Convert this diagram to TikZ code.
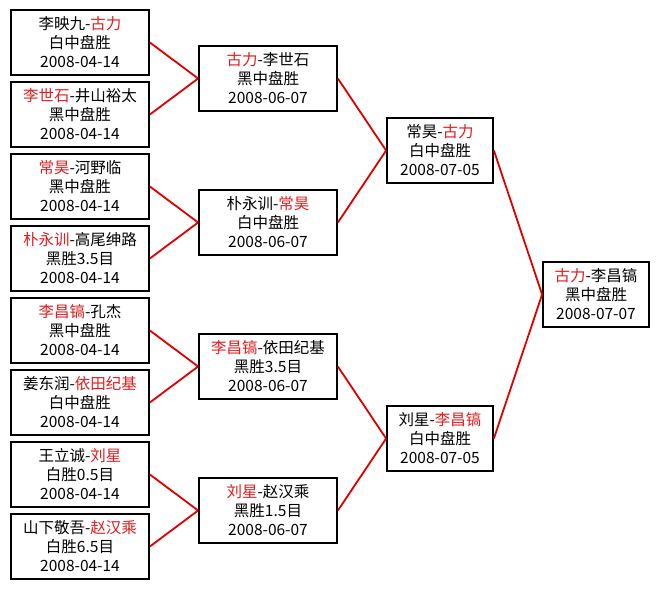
\documentclass[tikz,border=0pt]{standalone}
\usepackage{fontspec}
\setmainfont{Noto Sans CJK SC}
\definecolor{tred}{RGB}{225,30,30}
\definecolor{lred}{RGB}{225,0,0}
\begin{document}
\begin{tikzpicture}[x=1pt,y=-1pt,
  game/.style={draw=black,line width=1.8pt,fill=white,rectangle,minimum height=65pt,inner sep=0pt,align=center,font=\fontsize{15.5}{19}\selectfont},
  wide/.style={game,minimum width=138pt},
  narrow/.style={game,minimum width=106pt},
  link/.style={draw=lred,line width=1.8pt}]
\fill[white] (0,0) rectangle (659,589);
\useasboundingbox (0,0) rectangle (659,589);
% round 1
\node[wide] (a1) at (80,42.5) {李映九-\textcolor{tred}{古力}\\白中盘胜\\2008-04-14};
\node[wide] (a2) at (80,114.5) {\textcolor{tred}{李世石}-井山裕太\\黑中盘胜\\2008-04-14};
\node[wide] (a3) at (80,186.5) {\textcolor{tred}{常昊}-河野临\\黑中盘胜\\2008-04-14};
\node[wide] (a4) at (80,258.5) {\textcolor{tred}{朴永训}-高尾绅路\\黑胜3.5目\\2008-04-14};
\node[wide] (a5) at (80,330.5) {\textcolor{tred}{李昌镐}-孔杰\\黑中盘胜\\2008-04-14};
\node[wide] (a6) at (80,402.5) {姜东润-\textcolor{tred}{依田纪基}\\白中盘胜\\2008-04-14};
\node[wide] (a7) at (80,474.5) {王立诚-\textcolor{tred}{刘星}\\白胜0.5目\\2008-04-14};
\node[wide] (a8) at (80,546.5) {山下敬吾-\textcolor{tred}{赵汉乘}\\白胜6.5目\\2008-04-14};
% round 2
\node[wide] (b1) at (268,78.5) {\textcolor{tred}{古力}-李世石\\黑中盘胜\\2008-06-07};
\node[wide] (b2) at (268,222.5) {朴永训-\textcolor{tred}{常昊}\\白中盘胜\\2008-06-07};
\node[wide] (b3) at (268,366.5) {\textcolor{tred}{李昌镐}-依田纪基\\黑胜3.5目\\2008-06-07};
\node[wide] (b4) at (268,510.5) {\textcolor{tred}{刘星}-赵汉乘\\黑胜1.5目\\2008-06-07};
% round 3
\node[narrow] (c1) at (440,150.5) {常昊-\textcolor{tred}{古力}\\白中盘胜\\2008-07-05};
\node[narrow] (c2) at (440,438.5) {刘星-\textcolor{tred}{李昌镐}\\白中盘胜\\2008-07-05};
% final
\node[narrow] (d1) at (596,294.5) {\textcolor{tred}{古力}-李昌镐\\黑中盘胜\\2008-07-07};
% connectors
\draw[link] (a1.east) -- (b1.west);
\draw[link] (a2.east) -- (b1.west);
\draw[link] (a3.east) -- (b2.west);
\draw[link] (a4.east) -- (b2.west);
\draw[link] (a5.east) -- (b3.west);
\draw[link] (a6.east) -- (b3.west);
\draw[link] (a7.east) -- (b4.west);
\draw[link] (a8.east) -- (b4.west);
\draw[link] (b1.east) -- (c1.west);
\draw[link] (b2.east) -- (c1.west);
\draw[link] (b3.east) -- (c2.west);
\draw[link] (b4.east) -- (c2.west);
\draw[link] (c1.east) -- (d1.west);
\draw[link] (c2.east) -- (d1.west);
\end{tikzpicture}
\end{document}
